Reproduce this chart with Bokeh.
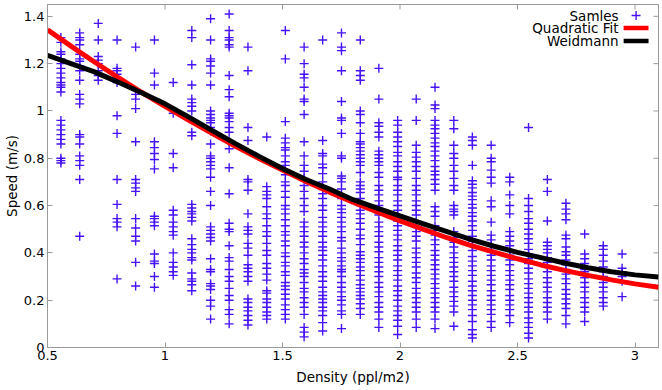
from bokeh.plotting import figure
from bokeh.models import Range1d, FixedTicker, Label
from bokeh.embed import file_html
from bokeh.resources import INLINE

# ---------------- data ----------------
density = [0.557, 0.637, 0.716, 0.796, 0.875, 0.955, 1.035, 1.114, 1.194, 1.273,
           1.353, 1.433, 1.512, 1.592, 1.671, 1.751, 1.831, 1.910, 1.990, 2.069,
           2.149, 2.229, 2.308, 2.388, 2.467, 2.547, 2.627, 2.706, 2.786, 2.865, 2.945]

v01 = [1.31, 1.29, 1.25, 1.24, 1.22, 1.20, 1.18, 1.16, 1.14, 1.12, 1.11, 1.10, 1.08,
       0.96, 0.94, 0.92, 0.90, 0.88, 0.86, 0.80, 0.79, 0.78]
v02 = [1.33, 1.31, 1.30, 1.28, 1.24, 1.22, 1.21, 1.19, 1.17, 1.13, 1.07, 1.05, 1.03,
       0.90, 0.89, 0.86, 0.81, 0.79, 0.77, 0.71, 0.47]
v03 = [1.37, 1.30, 1.23, 1.215, 1.20, 1.17, 1.15, 1.13]
v04 = [1.30, 1.18, 1.17, 1.155, 1.14, 1.12, 0.98, 0.905, 0.71, 0.605, 0.545, 0.53, 0.51, 0.29]
v05 = [1.27, 1.07, 1.05, 1.01, 0.87, 0.71, 0.695, 0.675, 0.66, 0.545, 0.505, 0.47, 0.45,
       0.36, 0.26]
v06 = [1.30, 1.16, 1.11, 0.87, 0.845, 0.82, 0.795, 0.755, 0.555, 0.545, 0.53, 0.515,
       0.395, 0.365, 0.355, 0.30, 0.255]
v07 = [1.12, 0.99, 0.82, 0.76, 0.58, 0.56, 0.53, 0.51, 0.49, 0.475, 0.40, 0.36, 0.34,
       0.32, 0.305]
v08 = [1.34, 1.31, 1.195, 1.11, 1.05, 1.035, 1.02, 1.00, 0.91, 0.895, 0.605, 0.59, 0.575,
       0.565, 0.55, 0.535, 0.46, 0.435, 0.415, 0.40, 0.38, 0.37, 0.315, 0.29, 0.28, 0.265, 0.24]
v09 = [1.39, 1.30, 1.22, 1.21, 1.19, 1.16, 1.11, 1.00, 0.985, 0.97, 0.96, 0.95, 0.93,
       0.915, 0.86, 0.81, 0.80, 0.785, 0.77, 0.755, 0.72, 0.66, 0.60, 0.51, 0.495, 0.48,
       0.465, 0.45, 0.375, 0.33, 0.32, 0.27, 0.26, 0.245, 0.20, 0.175, 0.12]
v10 = [1.41, 1.34, 1.31, 1.30, 1.28, 1.27, 1.15, 1.09, 1.06, 0.99, 0.98, 0.97, 0.955,
       0.93, 0.91, 0.87, 0.84, 0.76, 0.65, 0.525, 0.50, 0.49, 0.43, 0.38, 0.365, 0.33,
       0.30, 0.28, 0.25, 0.22, 0.20, 0.16, 0.14, 0.10]
v11 = [1.27, 1.17, 0.93, 0.875, 0.71, 0.70, 0.665, 0.565, 0.51, 0.495, 0.48, 0.44, 0.42,
       0.39, 0.35, 0.335, 0.32, 0.30, 0.28, 0.205, 0.19, 0.17, 0.155, 0.135, 0.115, 0.095]
v12 = [0.89, 0.68, 0.66, 0.645, 0.63, 0.595, 0.565, 0.545, 0.515, 0.49, 0.47, 0.44, 0.41,
       0.39, 0.355, 0.335, 0.31, 0.285, 0.24, 0.23, 0.205, 0.19, 0.17, 0.15, 0.135, 0.12]
v13 = [1.34, 1.22, 0.955, 0.885, 0.865, 0.845, 0.835, 0.81, 0.785, 0.77, 0.75, 0.73,
       0.70, 0.685, 0.66, 0.635, 0.60, 0.585, 0.565, 0.54, 0.515, 0.49, 0.475, 0.45, 0.43,
       0.40, 0.385, 0.36, 0.345, 0.32, 0.305, 0.275, 0.26, 0.245, 0.225, 0.205, 0.18,
       0.16, 0.14, 0.12]
v14 = [1.27, 1.20, 1.155, 1.14, 1.10, 1.05, 1.04, 0.985, 0.87, 0.81, 0.77, 0.745, 0.715,
       0.685, 0.66, 0.63, 0.60, 0.575, 0.53, 0.51, 0.49, 0.47, 0.445, 0.425, 0.40, 0.375,
       0.355, 0.33, 0.315, 0.30, 0.275, 0.25, 0.235, 0.21, 0.19, 0.17, 0.14, 0.085, 0.065,
       0.045]
v15 = [1.30, 0.875, 0.82, 0.81, 0.775, 0.76, 0.735, 0.70, 0.67, 0.65, 0.63, 0.60, 0.58,
       0.55, 0.53, 0.51, 0.49, 0.47, 0.445, 0.425, 0.41, 0.39, 0.37, 0.345, 0.32, 0.30,
       0.28, 0.255, 0.235, 0.22, 0.205, 0.19, 0.17, 0.155, 0.135, 0.105, 0.07]
v16 = [1.33, 1.27, 1.255, 1.17, 1.04, 0.97, 0.96, 0.905, 0.81, 0.80, 0.725, 0.715, 0.70,
       0.67, 0.63, 0.60, 0.585, 0.57, 0.55, 0.53, 0.51, 0.49, 0.465, 0.45, 0.42, 0.40,
       0.38, 0.365, 0.345, 0.33, 0.32, 0.30, 0.275, 0.255, 0.235, 0.215, 0.20, 0.18,
       0.155, 0.14, 0.08]
v17 = [1.30, 1.17, 1.15, 1.13, 1.00, 0.985, 0.95, 0.905, 0.87, 0.86, 0.845, 0.83, 0.815,
       0.80, 0.785, 0.77, 0.74, 0.70, 0.685, 0.67, 0.655, 0.63, 0.60, 0.58, 0.565, 0.545,
       0.525, 0.50, 0.475, 0.46, 0.435, 0.405, 0.39, 0.375, 0.36, 0.34, 0.325, 0.305,
       0.285, 0.265, 0.25, 0.235, 0.22, 0.205, 0.185, 0.165, 0.14]
v18 = [1.18, 1.05, 0.95, 0.935, 0.91, 0.89, 0.83, 0.815, 0.80, 0.785, 0.77, 0.74, 0.72,
       0.685, 0.665, 0.645, 0.62, 0.60, 0.58, 0.56, 0.53, 0.51, 0.49, 0.47, 0.445, 0.425,
       0.405, 0.38, 0.36, 0.34, 0.32, 0.30, 0.275, 0.255, 0.235, 0.215, 0.19, 0.17, 0.15,
       0.12, 0.085]
v19 = [0.96, 0.94, 0.91, 0.89, 0.87, 0.85, 0.825, 0.81, 0.785, 0.765, 0.745, 0.72, 0.71,
       0.685, 0.665, 0.645, 0.62, 0.60, 0.58, 0.56, 0.535, 0.515, 0.495, 0.475, 0.455,
       0.43, 0.41, 0.39, 0.37, 0.345, 0.325, 0.305, 0.285, 0.26, 0.24, 0.22, 0.20, 0.175,
       0.155, 0.135, 0.115, 0.09, 0.055]
v20 = [1.05, 0.96, 0.855, 0.825, 0.805, 0.785, 0.765, 0.745, 0.715, 0.685, 0.665, 0.645,
       0.62, 0.60, 0.58, 0.56, 0.53, 0.51, 0.49, 0.47, 0.45, 0.42, 0.40, 0.38, 0.36, 0.34,
       0.315, 0.295, 0.275, 0.25, 0.23, 0.21, 0.19, 0.17, 0.15, 0.12, 0.085]
v21 = [1.10, 1.025, 1.01, 0.96, 0.94, 0.925, 0.905, 0.885, 0.865, 0.85, 0.83, 0.81, 0.79,
       0.765, 0.745, 0.73, 0.71, 0.69, 0.665, 0.595, 0.575, 0.555, 0.515, 0.495, 0.475,
       0.455, 0.435, 0.41, 0.39, 0.37, 0.35, 0.33, 0.31, 0.29, 0.27, 0.25, 0.23, 0.21,
       0.19, 0.17, 0.15, 0.12, 0.08]
v22 = [0.96, 0.925, 0.855, 0.82, 0.80, 0.77, 0.745, 0.715, 0.685, 0.665, 0.60, 0.585,
       0.575, 0.56, 0.49, 0.465, 0.445, 0.425, 0.40, 0.38, 0.36, 0.34, 0.32, 0.30, 0.28,
       0.255, 0.235, 0.215, 0.195, 0.175, 0.15, 0.09]
v23 = [0.89, 0.875, 0.855, 0.77, 0.705, 0.69, 0.675, 0.655, 0.64, 0.625, 0.605, 0.59,
       0.57, 0.555, 0.535, 0.515, 0.495, 0.47, 0.45, 0.43, 0.41, 0.385, 0.365, 0.345,
       0.325, 0.305, 0.28, 0.26, 0.24, 0.22, 0.20, 0.18, 0.16, 0.135, 0.11, 0.075, 0.055,
       0.04]
v24 = [0.855, 0.80, 0.785, 0.75, 0.72, 0.695, 0.62, 0.595, 0.53, 0.475, 0.455, 0.435,
       0.41, 0.39, 0.37, 0.345, 0.325, 0.305, 0.285, 0.265, 0.24, 0.22, 0.20, 0.18, 0.16,
       0.14, 0.11, 0.085]
v25 = [0.72, 0.70, 0.645, 0.60, 0.565, 0.49, 0.47, 0.45, 0.43, 0.41, 0.39, 0.37, 0.35,
       0.325, 0.305, 0.285, 0.265, 0.245, 0.22, 0.20, 0.18, 0.16, 0.135, 0.105]
v26 = [0.93, 0.63, 0.60, 0.575, 0.545, 0.525, 0.50, 0.48, 0.46, 0.44, 0.415, 0.395, 0.375,
       0.355, 0.335, 0.315, 0.29, 0.27, 0.25, 0.23, 0.21, 0.19, 0.17, 0.15, 0.125, 0.105,
       0.085, 0.06, 0.04]
v27 = [0.71, 0.66, 0.535, 0.445, 0.43, 0.415, 0.40, 0.38, 0.36, 0.34, 0.32, 0.295, 0.275,
       0.255, 0.235, 0.21, 0.19, 0.17, 0.15, 0.12]
v28 = [0.61, 0.585, 0.565, 0.54, 0.475, 0.46, 0.425, 0.405, 0.39, 0.37, 0.35, 0.33, 0.31,
       0.29, 0.27, 0.245, 0.225, 0.205, 0.185, 0.165, 0.135, 0.10]
v29 = [0.48, 0.395, 0.375, 0.355, 0.33, 0.32, 0.295, 0.275, 0.255, 0.235, 0.21, 0.19,
       0.17, 0.15, 0.11]
v30 = [0.43, 0.415, 0.39, 0.365, 0.34, 0.32, 0.30, 0.275, 0.255, 0.235, 0.21, 0.19, 0.175]
v31 = [0.395, 0.335, 0.32, 0.30, 0.28, 0.215]

speeds = [v01, v02, v03, v04, v05, v06, v07, v08, v09, v10, v11, v12, v13, v14, v15, v16,
          v17, v18, v19, v20, v21, v22, v23, v24, v25, v26, v27, v28, v29, v30, v31]

curve_density = [0.5, 0.6, 0.7, 0.8, 0.9, 1.0, 1.1, 1.2, 1.3, 1.4, 1.5, 1.6, 1.7, 1.8,
                 1.9, 2.0, 2.1, 2.2, 2.3, 2.4, 2.5, 2.6, 2.7, 2.8, 2.9, 3.0, 3.1]
quadratic_fit = [1.343, 1.274, 1.207, 1.142, 1.079, 1.019, 0.961, 0.905, 0.851, 0.799,
                 0.750, 0.702, 0.657, 0.614, 0.574, 0.535, 0.499, 0.464, 0.432, 0.403,
                 0.375, 0.349, 0.326, 0.305, 0.286, 0.269, 0.255]
weidmann = [1.235, 1.200, 1.165, 1.122, 1.077, 1.030, 0.975, 0.918, 0.862, 0.808, 0.757,
            0.710, 0.670, 0.625, 0.590, 0.556, 0.523, 0.490, 0.457, 0.428, 0.402, 0.380,
            0.357, 0.337, 0.320, 0.307, 0.298]

x_ticks = [0.5, 1, 1.5, 2, 2.5, 3]
x_tick_labels = ["0.5", "1", "1.5", "2", "2.5", "3"]
y_ticks = [0, 0.2, 0.4, 0.6, 0.8, 1, 1.2, 1.4]
y_tick_labels = ["0", "0.2", "0.4", "0.6", "0.8", "1", "1.2", "1.4"]

legend_labels = ["Samles", "Quadratic Fit", "Weidmann"]
x_title = "Density (ppl/m2)"
y_title = "Speed (m/s)"

# ---------------- styling / layout ----------------
FONT = "DejaVu Sans"
GRAY = "#9a9a9a"
BLUE = "#4712f5"
X0, X1, Y0, Y1 = 0.5, 3.1, 0.0, 1.45
W, H = 660, 388
BL, BR, BT, BB = 45, 2, 4, 41
FW, FH = W - BL - BR, H - BT - BB
xpp = (X1 - X0) / FW   # data units per pixel
ypp = (Y1 - Y0) / FH
TICK = 5

sx, sy = [], []
for d, col in zip(density, speeds):
    sx += [d] * len(col)
    sy += col

p = figure(width=W, height=H, x_range=Range1d(X0, X1), y_range=Range1d(Y0, Y1),
           output_backend="svg", toolbar_location=None, tools="",
           min_border_left=BL, min_border_right=BR, min_border_top=BT, min_border_bottom=BB)
p.xgrid.visible = False
p.ygrid.visible = False
p.outline_line_color = GRAY
p.background_fill_color = "white"
p.border_fill_color = "white"

for ax, ticks, labels in ((p.xaxis[0], x_ticks, x_tick_labels),
                          (p.yaxis[0], y_ticks, y_tick_labels)):
    ax.ticker = FixedTicker(ticks=ticks)
    ax.major_label_overrides = dict(zip(ticks, labels))
    ax.major_tick_in = TICK
    ax.major_tick_out = 0
    ax.minor_tick_line_color = None
    ax.axis_line_color = GRAY
    ax.major_tick_line_color = GRAY
    ax.major_label_text_font = FONT
    ax.major_label_text_font_size = "13px"
    ax.major_label_text_color = "black"
    ax.major_label_standoff = 3
    ax.axis_label_text_font = FONT
    ax.axis_label_text_font_size = "13.5px"
    ax.axis_label_text_font_style = "normal"
    ax.axis_label_text_color = "black"

p.xaxis[0].axis_label = x_title
p.xaxis[0].axis_label_standoff = 6
p.yaxis[0].axis_label = y_title
p.yaxis[0].axis_label_standoff = 1

# mirrored inward ticks on top and right edges
p.segment(x0=x_ticks, y0=[Y1] * len(x_ticks), x1=x_ticks,
          y1=[Y1 - TICK * ypp] * len(x_ticks), line_color=GRAY, line_width=1)
p.segment(x0=[X1] * len(y_ticks), y0=y_ticks, x1=[X1 - TICK * xpp] * len(y_ticks),
          y1=y_ticks, line_color=GRAY, line_width=1)

# samples
p.scatter(sx, sy, marker="cross", size=9, line_color=BLUE, line_width=1.4)
# curves
p.line(curve_density, quadratic_fit, line_color="#ff0000", line_width=5)
p.line(curve_density, weidmann, line_color="black", line_width=5)

# legend (text on the left, key on the right, as in the reference)
leg_text_x = X1 - 40 * xpp
leg_key_x0, leg_key_x1 = X1 - 35 * xpp, X1 - 10 * xpp
leg_key_xc = X1 - 22.5 * xpp
leg_rows = [Y1 - 11 * ypp, Y1 - 23.5 * ypp, Y1 - 36.5 * ypp]
for lab, yy in zip(legend_labels, leg_rows):
    p.add_layout(Label(x=leg_text_x, y=yy, text=lab, text_align="right",
                       text_baseline="middle", text_font=FONT,
                       text_font_size="13.5px", text_color="black"))
p.scatter([leg_key_xc], [leg_rows[0]], marker="cross", size=9, line_color=BLUE,
          line_width=1.4)
p.line([leg_key_x0, leg_key_x1], [leg_rows[1], leg_rows[1]], line_color="#ff0000",
       line_width=4.5)
p.line([leg_key_x0, leg_key_x1], [leg_rows[2], leg_rows[2]], line_color="black",
       line_width=4.5)

open("out.html", "w").write(file_html(p, INLINE))
